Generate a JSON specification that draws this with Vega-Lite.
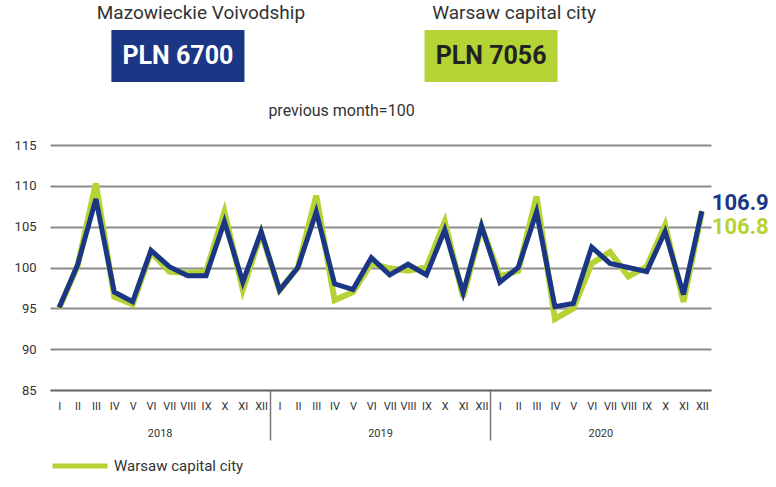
{
  "$schema": "https://vega.github.io/schema/vega-lite/v6.json",
  "padding": {"left": 14, "top": 4, "right": 2, "bottom": 5},
  "background": "white",
  "config": {"font": "Roboto", "view": {"stroke": null}},
  "bounds": "flush",
  "spacing": 63,
  "resolve": {"scale": {"color": "independent"}, "legend": {"color": "independent"}},
  "datasets": {
    "header": [
      {"region": "Mazowieckie Voivodship", "amount": "PLN 6700"},
      {"region": "Warsaw capital city", "amount": "PLN 7056"}
    ],
    "monthly": [
      {"period": "2018-I", "mazowieckie": 95.1, "warsaw": 95.0},
      {"period": "2018-II", "mazowieckie": 100.3, "warsaw": 100.2},
      {"period": "2018-III", "mazowieckie": 108.4, "warsaw": 110.3},
      {"period": "2018-IV", "mazowieckie": 97.0, "warsaw": 96.4},
      {"period": "2018-V", "mazowieckie": 95.8, "warsaw": 95.5},
      {"period": "2018-VI", "mazowieckie": 102.1, "warsaw": 101.9},
      {"period": "2018-VII", "mazowieckie": 100.1, "warsaw": 99.5},
      {"period": "2018-VIII", "mazowieckie": 99.0, "warsaw": 99.3},
      {"period": "2018-IX", "mazowieckie": 99.0, "warsaw": 99.5},
      {"period": "2018-X", "mazowieckie": 105.6, "warsaw": 106.8},
      {"period": "2018-XI", "mazowieckie": 98.2, "warsaw": 97.3},
      {"period": "2018-XII", "mazowieckie": 104.4, "warsaw": 104.2},
      {"period": "2019-I", "mazowieckie": 97.2, "warsaw": 97.2},
      {"period": "2019-II", "mazowieckie": 100.0, "warsaw": 100.0},
      {"period": "2019-III", "mazowieckie": 106.8, "warsaw": 108.8},
      {"period": "2019-IV", "mazowieckie": 98.0, "warsaw": 96.0},
      {"period": "2019-V", "mazowieckie": 97.3, "warsaw": 97.0},
      {"period": "2019-VI", "mazowieckie": 101.2, "warsaw": 100.5},
      {"period": "2019-VII", "mazowieckie": 99.1, "warsaw": 99.9},
      {"period": "2019-VIII", "mazowieckie": 100.4, "warsaw": 99.6},
      {"period": "2019-IX", "mazowieckie": 99.1, "warsaw": 100.0},
      {"period": "2019-X", "mazowieckie": 104.6, "warsaw": 105.6},
      {"period": "2019-XI", "mazowieckie": 96.9, "warsaw": 96.4},
      {"period": "2019-XII", "mazowieckie": 105.1, "warsaw": 105.0},
      {"period": "2020-I", "mazowieckie": 98.2, "warsaw": 98.9},
      {"period": "2020-II", "mazowieckie": 100.0, "warsaw": 99.6},
      {"period": "2020-III", "mazowieckie": 106.8, "warsaw": 108.7},
      {"period": "2020-IV", "mazowieckie": 95.2, "warsaw": 93.7},
      {"period": "2020-V", "mazowieckie": 95.6, "warsaw": 95.0},
      {"period": "2020-VI", "mazowieckie": 102.5, "warsaw": 100.5},
      {"period": "2020-VII", "mazowieckie": 100.5, "warsaw": 101.9},
      {"period": "2020-VIII", "mazowieckie": 100.0, "warsaw": 98.9},
      {"period": "2020-IX", "mazowieckie": 99.5, "warsaw": 100.1},
      {"period": "2020-X", "mazowieckie": 104.4, "warsaw": 105.2},
      {"period": "2020-XI", "mazowieckie": 96.7, "warsaw": 95.8},
      {"period": "2020-XII", "mazowieckie": 106.9, "warsaw": 106.8}
    ],
    "years": [{"year": "2018"}, {"year": "2019"}, {"year": "2020"}]
  },
  "vconcat": [
    {
      "width": 569,
      "height": 52,
      "data": {"name": "header"},
      "encoding": {
        "x": {"field": "region", "type": "nominal", "sort": null,
              "scale": {"type": "band", "paddingInner": 0.575, "paddingOuter": 0.196},
              "axis": null}
      },
      "layer": [
        {"mark": {"type": "rect"},
         "encoding": {"color": {"field": "region", "type": "nominal", "sort": null,
           "scale": {"domain": ["Mazowieckie Voivodship", "Warsaw capital city"], "range": ["#1b3685", "#b4d335"]},
           "legend": null}}},
        {"mark": {"type": "text", "fontSize": 25, "fontWeight": "bold"},
         "encoding": {"text": {"field": "amount"},
           "color": {"condition": {"test": "datum.region == 'Warsaw capital city'", "value": "#222222"}, "value": "#ffffff"}}},
        {"mark": {"type": "text", "fontSize": 19, "dx": 23, "dy": -43, "color": "#333333"},
         "encoding": {"text": {"field": "region"}}}
      ]
    },
    {
      "width": 661,
      "height": 245,
      "title": {"text": "previous month=100", "fontSize": 16, "fontWeight": "normal", "color": "#333333", "offset": 20, "dx": -39},
      "layer": [
        {
          "data": {"name": "monthly"},
          "encoding": {
            "x": {"field": "period", "type": "ordinal", "sort": null,
                  "scale": {"type": "point", "padding": 0.5},
                  "axis": {"title": null, "labelExpr": "split(datum.label, '-')[1]", "labelAngle": 0,
                           "labelFontSize": 11, "labelColor": "#333333", "ticks": false,
                           "domain": true, "domainColor": "#666666", "domainWidth": 1.5,
                           "labelPadding": 10, "labelOverlap": false, "labelBound": false, "labelFlush": false}}
          },
          "layer": [
            {"mark": {"type": "line", "strokeWidth": 6},
             "encoding": {
               "y": {"field": "warsaw", "type": "quantitative",
                     "scale": {"domain": [85, 115], "nice": false, "zero": false},
                     "axis": {"title": null, "values": [85, 90, 95, 100, 105, 110, 115], "domain": false, "ticks": false,
                              "grid": true, "gridColor": "#8c8c8c", "gridWidth": 1.8,
                              "labelFontSize": 13, "labelColor": "#333333", "labelPadding": 14}},
               "color": {"datum": "Warsaw capital city", "type": "nominal",
                         "scale": {"domain": ["Warsaw capital city"], "range": ["#b5d334"]},
                         "legend": {"orient": "bottom", "direction": "horizontal", "title": null,
                                    "symbolType": "stroke", "symbolSize": 3025, "offset": -5,
                                    "symbolStrokeWidth": 5, "labelFontSize": 15, "labelColor": "#333333"}}}},
            {"mark": {"type": "line", "strokeWidth": 5, "color": "#1b3685"},
             "encoding": {"y": {"field": "mazowieckie", "type": "quantitative"}}},
            {"transform": [{"filter": "datum.period == '2020-XII'"}],
             "mark": {"type": "text", "fontSize": 22, "fontWeight": "bold", "align": "left", "dx": 10, "dy": -8, "color": "#1b3685"},
             "encoding": {"y": {"field": "mazowieckie", "type": "quantitative"}, "text": {"field": "mazowieckie", "type": "quantitative", "format": ".1f"}}},
            {"transform": [{"filter": "datum.period == '2020-XII'"}],
             "mark": {"type": "text", "fontSize": 22, "fontWeight": "bold", "align": "left", "dx": 10, "dy": 15, "color": "#b5d334"},
             "encoding": {"y": {"field": "warsaw", "type": "quantitative"}, "text": {"field": "warsaw", "type": "quantitative", "format": ".1f"}}}
          ]
        },
        {
          "data": {"name": "years"},
          "mark": {"type": "point", "opacity": 0},
          "encoding": {
            "x": {"field": "year", "type": "nominal", "sort": null,
                  "scale": {"type": "band", "paddingInner": 0, "paddingOuter": 0},
                  "axis": {"orient": "bottom", "offset": 0, "title": null, "domain": false, "bandPosition": 0,
                           "ticks": true, "tickSize": 50, "tickWidth": 1.5,
                           "tickColor": {"condition": {"test": "datum.value == '2018'", "value": "transparent"}, "value": "#777777"},
                           "labelPadding": -13, "labelAngle": 0, "labelFontSize": 11, "labelColor": "#333333"}}
          }
        }
      ],
      "resolve": {"scale": {"x": "independent"}, "axis": {"x": "independent"}}
    }
  ]
}
